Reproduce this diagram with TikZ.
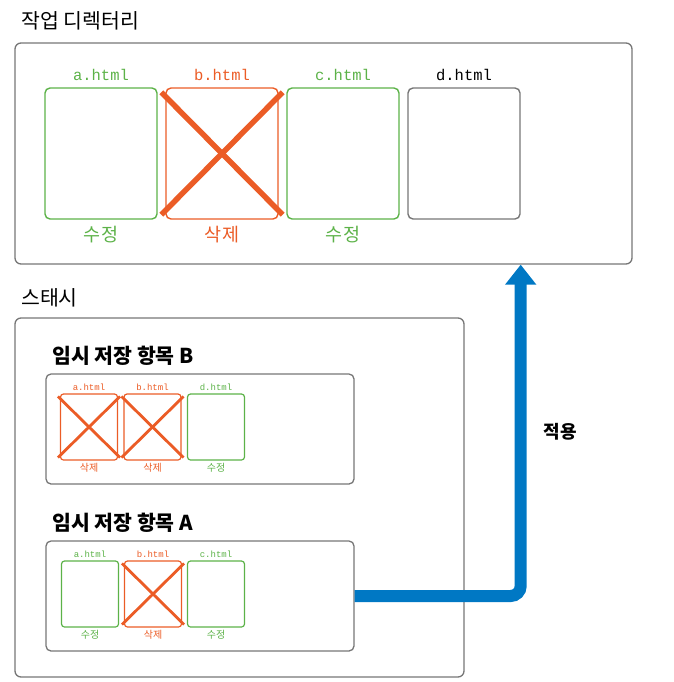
\documentclass[tikz,border=0pt]{standalone}
\usepackage{fontspec}
\setmainfont{Noto Sans CJK KR}
\newfontfamily\htmlfont{Liberation Mono}
\usetikzlibrary{positioning}
\usetikzlibrary{arrows.meta}
\definecolor{modgreen}{RGB}{92,178,72}
\definecolor{delorange}{RGB}{235,92,38}
\definecolor{applyblue}{RGB}{0,120,196}
\definecolor{boxgray}{RGB}{118,118,118}

\begin{document}
\begin{tikzpicture}[x=1pt, y=-1pt,
    % frames
    frame/.style={draw=boxgray, line width=1.3pt, rounded corners=6pt, inner sep=0pt},
    heading/.style={font=\fontsize{20.5}{22}\selectfont, inner sep=0pt, anchor=west},
    subheading/.style={font=\fontsize{20.5}{22}\selectfont\bfseries, inner sep=0pt, anchor=west},
    % big files (working directory)
    bigfile/.style={rectangle, draw, line width=1.4pt, rounded corners=5pt, minimum width=112pt, minimum height=131pt, inner sep=0pt},
    bigname/.style={font=\htmlfont\fontsize{15.5}{16}\selectfont, inner sep=0pt},
    bigstate/.style={font=\fontsize{18.5}{20}\selectfont, inner sep=0pt},
    bigcross/.style={draw=delorange, line width=5.5pt},
    % small files (stash entries)
    smallfile/.style={rectangle, draw, line width=1.2pt, rounded corners=3pt, minimum width=57pt, minimum height=66pt, inner sep=0pt},
    smallname/.style={font=\htmlfont\fontsize{9}{10}\selectfont, inner sep=0pt},
    smallstate/.style={font=\fontsize{10}{11}\selectfont, inner sep=0pt},
    smallcross/.style={draw=delorange, line width=2.8pt},
    apply/.style={draw=applyblue, line width=12pt, rounded corners=10pt, -{Triangle[width=30pt,length=20pt]}},
]
\useasboundingbox (0,0) rectangle (673,682);

% =========================================================
% Working directory
% =========================================================
\node[heading] (workT) at (21,21) {작업 디렉터리};
\node[frame, minimum width=617pt, minimum height=221pt] (work) at (323.5,153.5) {};

\node[bigfile, draw=modgreen]   (fa) at (101,153.5) {};
\node[bigfile, draw=delorange]  (fb) at (222,153.5) {};
\node[bigfile, draw=modgreen]   (fc) at (343,153.5) {};
\node[bigfile, draw=boxgray]    (fd) at (464,153.5) {};

\node[bigname, text=modgreen,  above=6pt of fa] (faN) {a.html};
\node[bigname, text=delorange, above=6pt of fb] (fbN) {b.html};
\node[bigname, text=modgreen,  above=6pt of fc] (fcN) {c.html};
\node[bigname, text=black,     above=6pt of fd] (fdN) {d.html};

\node[bigstate, text=modgreen,  below=6pt of fa] (faS) {수정};
\node[bigstate, text=delorange, below=6pt of fb] (fbS) {삭제};
\node[bigstate, text=modgreen,  below=6pt of fc] (fcS) {수정};

\draw[bigcross] ([shift={(-4pt,-5pt)}]fb.north west) -- ([shift={(4pt,5pt)}]fb.south east);
\draw[bigcross] ([shift={(4pt,-5pt)}]fb.north east) -- ([shift={(-4pt,5pt)}]fb.south west);

% =========================================================
% Stash
% =========================================================
\node[heading] (stashT) at (21,298) {스태시};
\node[frame, minimum width=449pt, minimum height=359pt] (stash) at (239.5,497.5) {};

% --- entry B
\node[subheading] (stashBT) at (52,356) {임시 저장 항목 B};
\node[frame, rounded corners=5pt, minimum width=308pt, minimum height=110pt] (stashB) at (200,429) {};

\node[smallfile, draw=delorange] (ba) at (89,427) {};
\node[smallfile, draw=delorange] (bb) at (152.5,427) {};
\node[smallfile, draw=modgreen]  (bd) at (216,427) {};

\node[smallname, text=delorange, above=3pt of ba] (baN) {a.html};
\node[smallname, text=delorange, above=3pt of bb] (bbN) {b.html};
\node[smallname, text=modgreen,  above=3pt of bd] (bdN) {d.html};

\node[smallstate, text=delorange, below=2pt of ba] (baS) {삭제};
\node[smallstate, text=delorange, below=2pt of bb] (bbS) {삭제};
\node[smallstate, text=modgreen,  below=2pt of bd] (bdS) {수정};

\draw[smallcross] ([shift={(-2pt,-3pt)}]ba.north west) -- ([shift={(2pt,3pt)}]ba.south east);
\draw[smallcross] ([shift={(2pt,-3pt)}]ba.north east) -- ([shift={(-2pt,3pt)}]ba.south west);
\draw[smallcross] ([shift={(-2pt,-3pt)}]bb.north west) -- ([shift={(2pt,3pt)}]bb.south east);
\draw[smallcross] ([shift={(2pt,-3pt)}]bb.north east) -- ([shift={(-2pt,3pt)}]bb.south west);

% --- entry A
\node[subheading] (stashAT) at (52,523) {임시 저장 항목 A};
\node[frame, rounded corners=5pt, minimum width=308pt, minimum height=110pt] (stashA) at (200,596) {};

\node[smallfile, draw=modgreen]  (aa) at (90,594) {};
\node[smallfile, draw=delorange] (ab) at (153,594) {};
\node[smallfile, draw=modgreen]  (ac) at (216,594) {};

\node[smallname, text=modgreen,  above=3pt of aa] (aaN) {a.html};
\node[smallname, text=delorange, above=3pt of ab] (abN) {b.html};
\node[smallname, text=modgreen,  above=3pt of ac] (acN) {c.html};

\node[smallstate, text=modgreen,  below=2pt of aa] (aaS) {수정};
\node[smallstate, text=delorange, below=2pt of ab] (abS) {삭제};
\node[smallstate, text=modgreen,  below=2pt of ac] (acS) {수정};

\draw[smallcross] ([shift={(-2pt,-3pt)}]ab.north west) -- ([shift={(2pt,3pt)}]ab.south east);
\draw[smallcross] ([shift={(2pt,-3pt)}]ab.north east) -- ([shift={(-2pt,3pt)}]ab.south west);

% =========================================================
% apply arrow
% =========================================================
\draw[apply] (stashA.east) -- (fd.east |- stashA.east) -- (fd.east |- work.south);
\node[font=\fontsize{18}{20}\selectfont\bfseries, inner sep=0pt] (applyL) at (560,432) {적용};

\end{tikzpicture}
\end{document}
